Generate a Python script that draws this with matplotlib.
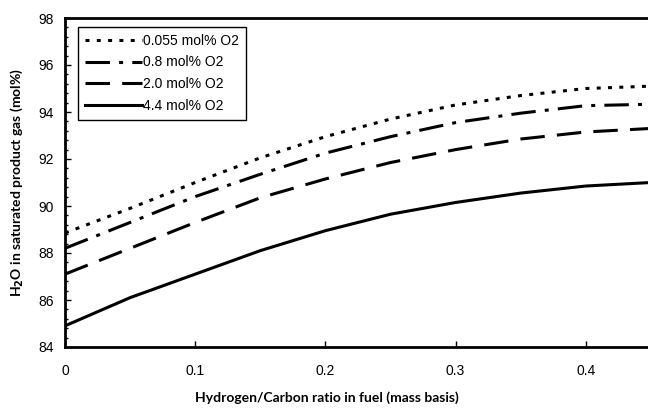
import numpy as np
import matplotlib
matplotlib.use("Agg")
import matplotlib.pyplot as plt
from matplotlib.ticker import MultipleLocator

# H/C mass ratio in fuel
hc_ratio = [0.0, 0.05, 0.1, 0.15, 0.2, 0.25, 0.3, 0.35, 0.4, 0.45]

# H2O in saturated product gas (mol%) for each O2 level
h2o_0055 = [88.85, 89.9, 91.0, 92.05, 92.95, 93.7, 94.3, 94.7, 95.0, 95.1]
h2o_08 = [88.2, 89.3, 90.4, 91.35, 92.25, 92.95, 93.55, 93.95, 94.27, 94.33]
h2o_20 = [87.1, 88.2, 89.3, 90.35, 91.15, 91.85, 92.4, 92.85, 93.15, 93.3]
h2o_44 = [84.9, 86.1, 87.1, 88.1, 88.95, 89.65, 90.15, 90.55, 90.85, 91.0]

labels = ["0.055 mol% O2", "0.8 mol% O2", "2.0 mol% O2", "4.4 mol% O2"]

plt.rcParams['font.family'] = ['Liberation Sans', 'DejaVu Sans']

fig = plt.figure(figsize=(6.48, 4.09), dpi=100)
# axes runs past the right edge, as in the original
ax = fig.add_axes([65 / 648, 1 - 347 / 409, 651 / 648, 329 / 409])

lw = 2.2
ax.plot(hc_ratio, h2o_0055, color='black', lw=lw, linestyle=(0, (1.3, 2.4)), label=labels[0])
ax.plot(hc_ratio, h2o_08, color='black', lw=lw, linestyle=(0, (8, 3, 1.3, 3)), label=labels[1])
ax.plot(hc_ratio, h2o_20, color='black', lw=lw, linestyle=(0, (8, 4)), label=labels[2])
ax.plot(hc_ratio, h2o_44, color='black', lw=lw, linestyle='-', label=labels[3])

ax.set_xlim(0, 0.5)
ax.set_ylim(84, 98)
ax.set_xticks([0, 0.1, 0.2, 0.3, 0.4])
ax.set_xticklabels(['0', '0.1', '0.2', '0.3', '0.4'])
ax.set_yticks(np.arange(84, 99, 2))
ax.yaxis.set_minor_locator(MultipleLocator(0.4))
ax.tick_params(axis='both', which='major', direction='in', length=4, width=1,
               labelsize=10, pad=8)
ax.tick_params(axis='y', which='minor', direction='in', length=2.5, width=1)
ax.tick_params(axis='x', pad=12)

for side in ['left', 'bottom', 'top']:
    ax.spines[side].set_linewidth(2)
ax.spines['right'].set_visible(False)

fig.text(327 / 648, 1 - 398 / 409, 'Hydrogen/Carbon ratio in fuel (mass basis)',
         ha='center', va='center', fontsize=10, fontweight='bold', family='Lato')
ax.set_ylabel('H$_\\mathbf{2}$O in saturated product gas (mol%)', fontsize=10,
              fontweight='bold', family='Lato')
ax.yaxis.set_label_coords(-0.062, 0.5)

leg = ax.legend(loc='upper left', bbox_to_anchor=(0.02, 0.973), borderaxespad=0,
                fontsize=10, handlelength=4.1, handletextpad=0.1, labelspacing=0.55,
                borderpad=0.5, fancybox=False, framealpha=1, edgecolor='black')
leg.get_frame().set_linewidth(1)

fig.savefig("out.png", dpi=100)
